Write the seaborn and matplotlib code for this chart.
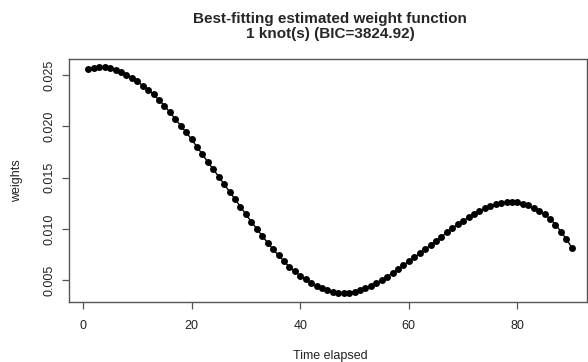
import numpy as np
import pandas as pd
import matplotlib.pyplot as plt
import seaborn as sns

sns.set_style('ticks')
plt.rcParams['font.family'] = ['Liberation Sans', 'DejaVu Sans']

# values
time_elapsed = list(range(1, 91))
weights = [
    0.02558, 0.02571, 0.02578, 0.02578, 0.02568, 0.02549, 0.02529, 0.02503, 0.02474, 0.02438,
    0.02396, 0.02357, 0.02312, 0.02256, 0.02201, 0.02136, 0.02071, 0.02006, 0.01941, 0.01873,
    0.01798, 0.01727, 0.01649, 0.01581, 0.01509, 0.01434, 0.01363, 0.01288, 0.01217, 0.01142,
    0.01070, 0.01002, 0.00931, 0.00866, 0.00801, 0.00743, 0.00687, 0.00629, 0.00587, 0.00544,
    0.00509, 0.00476, 0.00447, 0.00421, 0.00402, 0.00385, 0.00379, 0.00375, 0.00379, 0.00389,
    0.00405, 0.00424, 0.00447, 0.00473, 0.00502, 0.00534, 0.00570, 0.00606, 0.00645, 0.00684,
    0.00723, 0.00762, 0.00801, 0.00843, 0.00885, 0.00924, 0.00967, 0.01006, 0.01045, 0.01080,
    0.01113, 0.01145, 0.01174, 0.01200, 0.01223, 0.01239, 0.01252, 0.01259, 0.01262, 0.01259,
    0.01246, 0.01230, 0.01207, 0.01178, 0.01142, 0.01097, 0.01042, 0.00974, 0.00902, 0.00818,
]
x_ticks = [0, 20, 40, 60, 80]
y_ticks = [0.005, 0.010, 0.015, 0.020, 0.025]
title = "Best-fitting estimated weight function\n1 knot(s) (BIC=3824.92)"

df = pd.DataFrame({'Time elapsed': time_elapsed, 'weights': weights})

W, H = 588, 362
fig = plt.figure(figsize=(W / 100, H / 100), dpi=100)
left, right, top, bottom = 69.3, 587.0, 59.0, 302.3
ax = fig.add_axes([left / W, 1 - bottom / H, (right - left) / W, (bottom - top) / H])

sns.lineplot(data=df, x='Time elapsed', y='weights', color='black', marker='o',
             markersize=5, markeredgewidth=0, linewidth=1, ax=ax)

ax.set_xlim(-2.52, 92.8)
ax.set_ylim(0.00285, 0.02656)
ax.set_xticks(x_ticks)
ax.set_yticks(y_ticks)
ax.set_yticklabels([f'{v:.3f}' for v in y_ticks], rotation=90, va='center')
ax.tick_params(axis='both', length=5, width=0.9, color='#555555', labelsize=9,
               labelcolor='#222222')
ax.tick_params(axis='x', pad=8)
ax.tick_params(axis='y', pad=5)
for s in ax.spines.values():
    s.set_color('#555555')
    s.set_linewidth(1.0)

ax.set_xlabel('Time elapsed', fontsize=9, color='#222222')
ax.set_ylabel('weights', fontsize=9, color='#222222')
ax.xaxis.set_label_coords((330 - left) / (right - left), -(356 - bottom) / (bottom - top))
ax.xaxis.label.set_va('center')
ax.yaxis.set_label_coords(-(left - 16.7) / (right - left), 0.5)
ax.yaxis.label.set_va('center')

fig.text(330 / W, 1 - 26.7 / H, title, ha='center', va='center', fontsize=11,
         fontweight='bold', linespacing=1.1)

fig.savefig('out.png', dpi=100)
